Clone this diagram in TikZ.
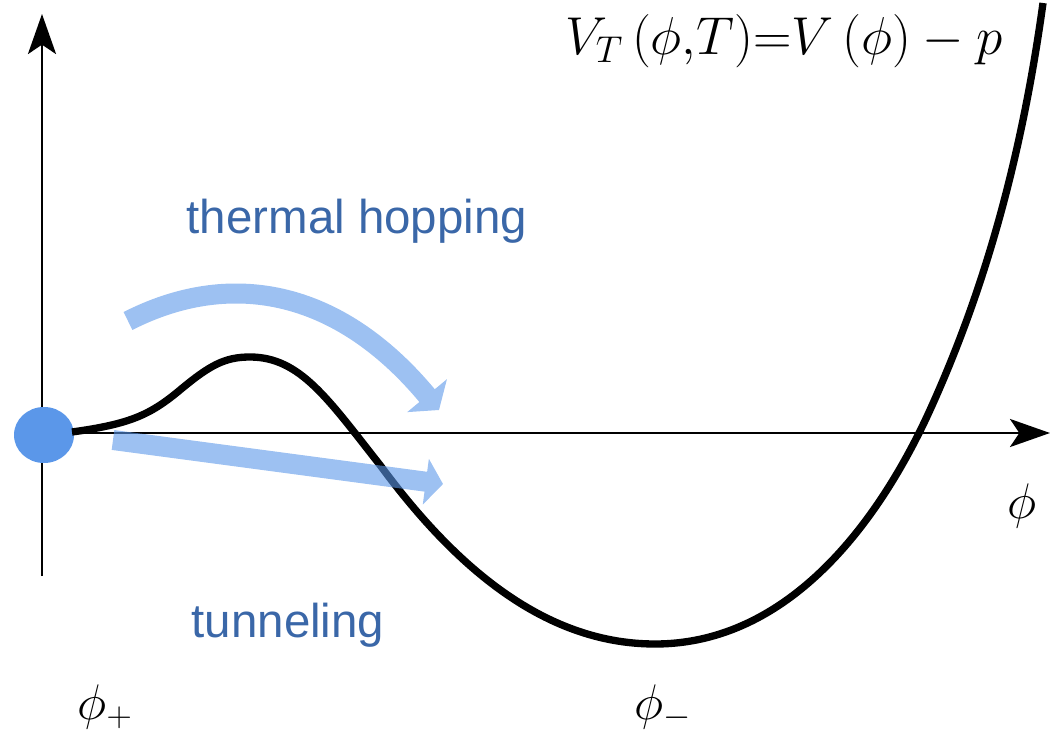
\RequirePackage{fix-cm}
\documentclass[tikz,border=0pt]{standalone}
\usepackage{fontspec}
\usepackage{tikz}
\usepackage{xcolor}
\usetikzlibrary{arrows.meta, shapes.geometric}
\newfontfamily\labelfont{Liberation Sans}
\definecolor{ballblue}{HTML}{5B97E9}
\definecolor{labelblue}{HTML}{3A67A8}

\begin{document}
\begin{tikzpicture}[x=0.75pt, y=-0.75pt,
    >={Stealth[length=30pt,width=21pt,inset=7pt]},
    axis/.style={line width=2.2pt, ->},
    jump/.style={draw=ballblue, line width=15pt},
    word/.style={text=labelblue, anchor=base, inner sep=0pt,
                 font=\labelfont\fontsize{35.6}{40}\selectfont},
    sym/.style={anchor=base, inner sep=0pt, font=\fontsize{37.5}{44}\selectfont}]
    \useasboundingbox (0,0) rectangle (1050,735);
    % axes
    \coordinate (origin) at (42,433);
    \coordinate (ytop) at (42,14);
    \coordinate (ybot) at (42,576);
    \coordinate (xend) at (1050,433);
    \draw[axis] (ybot) -- (ytop);
    \draw[axis] (origin) -- (xend);
    % potential
    \node[ellipse, fill=ballblue, minimum width=45pt, minimum height=42pt, inner sep=0pt] (ball) at (44,435) {};
    \draw[line width=5.5pt] (72,432) .. controls (130,424) and (150,415) .. (180,390)
      .. controls (210,365) and (225,357) .. (250,357)
      .. controls (300,357) and (328,399) .. (380,465)
      .. controls (450,560) and (540,644) .. (655,644)
      .. controls (790,644) and (880,520) .. (930,410)
      .. controls (980,300) and (1020,170) .. (1043,3);
    % the two ways out
    \coordinate (hopfrom) at (128,321);
    \coordinate (hopto) at (439,410);
    \coordinate (tunfrom) at (113,440);
    \coordinate (tunto) at (443,484);
    \begin{scope}[transparency group, opacity=0.6]
      \draw[jump, -{Triangle[length=14pt,width=38pt]}] (hopfrom) .. controls (228,270) and (337,287) .. (hopto);
    \end{scope}
    \begin{scope}[transparency group, opacity=0.6]
      \draw[jump, -{Triangle[length=13pt,width=34pt]}] (tunfrom) -- (tunto);
    \end{scope}
    \node[word] (hopping) at (357,233) {thermal hopping};
    \node[word] (tunnel) at (288,637) {tunneling};
    \node[sym] (plus) at (105,719) {$\phi_+$};
    \node[sym] (minus) at (663,719) {$\phi_-$};
    \node[sym] (field) at (1022,518) {$\phi$};
    \node[sym, font=\fontsize{40}{46}\selectfont] (potential) at (784,55) {$V_T\,(\phi{,}T){=}V\,(\phi)-p$};
\end{tikzpicture}
\end{document}
